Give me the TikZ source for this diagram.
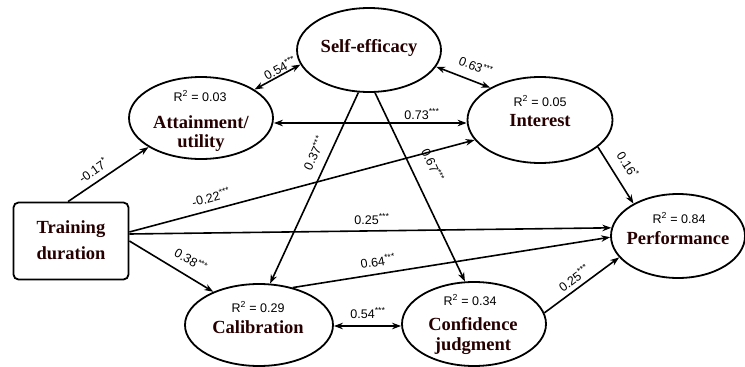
\documentclass[tikz,border=0pt]{standalone}
\usepackage{fontspec}
\setmainfont{Liberation Serif}
\newfontfamily\labfont{Liberation Sans}
\usetikzlibrary{arrows.meta,shapes.geometric,calc}
\tikzset{
  ell/.style={draw, line width=1.8pt, ellipse, inner sep=0pt},
  namet/.style={font=\fontsize{18.5}{20}\selectfont\bfseries, inner sep=0pt, text=black!85!red},
  rtxt/.style={font=\labfont\fontsize{12.5}{14}\selectfont, inner sep=0pt},
  elab/.style={font=\labfont\fontsize{12.5}{14}\selectfont, inner sep=0pt},
  arr/.style={line width=1.6pt, -{Stealth[length=9pt,width=6.5pt]}},
  darr/.style={line width=1.6pt, {Stealth[length=9pt,width=6.5pt]}-{Stealth[length=9pt,width=6.5pt]}},
}
\newcommand{\stars}[1]{\textsuperscript{#1}}
\begin{document}
\begin{tikzpicture}[x=1pt,y=-1pt]
\useasboundingbox (0,0) rectangle (745,367);
% nodes
\node[ell, minimum width=144pt, minimum height=84pt] (self) at (369,50) {};
\node[namet] (selft) at (369,48) {Self-efficacy};
\node[ell, minimum width=144pt, minimum height=82pt] (att) at (201,118) {};
\node[rtxt] (attr) at (200,96) {R\textsuperscript{2} = 0.03};
\node[namet] (att1) at (201,122) {Attainment/};
\node[namet] (att2) at (201,143) {utility};
\node[ell, minimum width=145pt, minimum height=86pt] (int) at (540,120) {};
\node[rtxt] (intr) at (540,101) {R\textsuperscript{2} = 0.05};
\node[namet] (intt) at (540,121) {Interest};
\node[draw, line width=1.8pt, rounded corners=5pt, minimum width=115pt, minimum height=77pt, inner sep=0pt] (train) at (71,241) {};
\node[namet] (tr1) at (71,229) {Training};
\node[namet] (tr2) at (71,253) {duration};
\node[ell, minimum width=148pt, minimum height=82pt] (cal) at (259,325) {};
\node[rtxt] (calr) at (258,307) {R\textsuperscript{2} = 0.29};
\node[namet] (calt) at (258,327) {Calibration};
\node[ell, minimum width=144pt, minimum height=84pt] (conf) at (474,324) {};
\node[rtxt] (confr) at (470,300) {R\textsuperscript{2} = 0.34};
\node[namet] (conf1) at (473,324) {Confidence};
\node[namet] (conf2) at (473,346) {judgment};
\node[ell, minimum width=134pt, minimum height=84pt] (perf) at (678,236) {};
\node[rtxt] (perfr) at (679,218) {R\textsuperscript{2} = 0.84};
\node[namet] (perft) at (678,238) {Performance};
% connectors
\draw[arr] ([xshift=-3pt]train.north) -- (att.209);
\draw[darr] (self.192) -- (att.28);
\draw[darr] (self.346) -- (int.147);
\draw[darr] ($(att.east)+(0,5)$) -- ($(int.west)+(0,3)$);
\draw[arr] ([yshift=9pt]train.east) -- (int.197);
\draw[arr] ([yshift=7pt]train.east) -- (perf.173);
\draw[arr] (train.east) -- (cal.144);
\draw[arr] (self.256) -- (cal.75);
\draw[arr] (self.278) -- (conf.102);
\draw[arr] (int.335) -- (perf.144);
\draw[arr] (cal.48) -- (perf.181);
\draw[darr] ($(cal.east)+(0,1)$) -- ($(conf.west)+(0,2)$);
\draw[arr] (conf.9) -- (perf.200);
% labels
\node[elab, rotate=35] (l1) at (93,170) {-0.17\stars{*}};
\node[elab, rotate=29] (l2) at (280,68) {0.54\stars{***}};
\node[elab, rotate=-22] (l3) at (476,66) {0.63\stars{***}};
\node[elab] (l4) at (422,114) {0.73\stars{***}};
\node[elab, rotate=15] (l5) at (211,197) {-0.22\stars{***}};
\node[elab] (l6) at (372,219) {0.25\stars{***}};
\node[elab, rotate=-30] (l7) at (191,260) {0.38\stars{***}};
\node[elab, rotate=65] (l8) at (314,153) {0.37\stars{***}};
\node[elab, rotate=-65] (l9) at (433,165) {0.67\stars{***}};
\node[elab, rotate=-57] (l10) at (628,165) {0.16\stars{*}};
\node[elab, rotate=9] (l11) at (378,261) {0.64\stars{***}};
\node[elab] (l12) at (368,313) {0.54\stars{***}};
\node[elab, rotate=37] (l13) at (574,278) {0.25\stars{***}};
\end{tikzpicture}
\end{document}
